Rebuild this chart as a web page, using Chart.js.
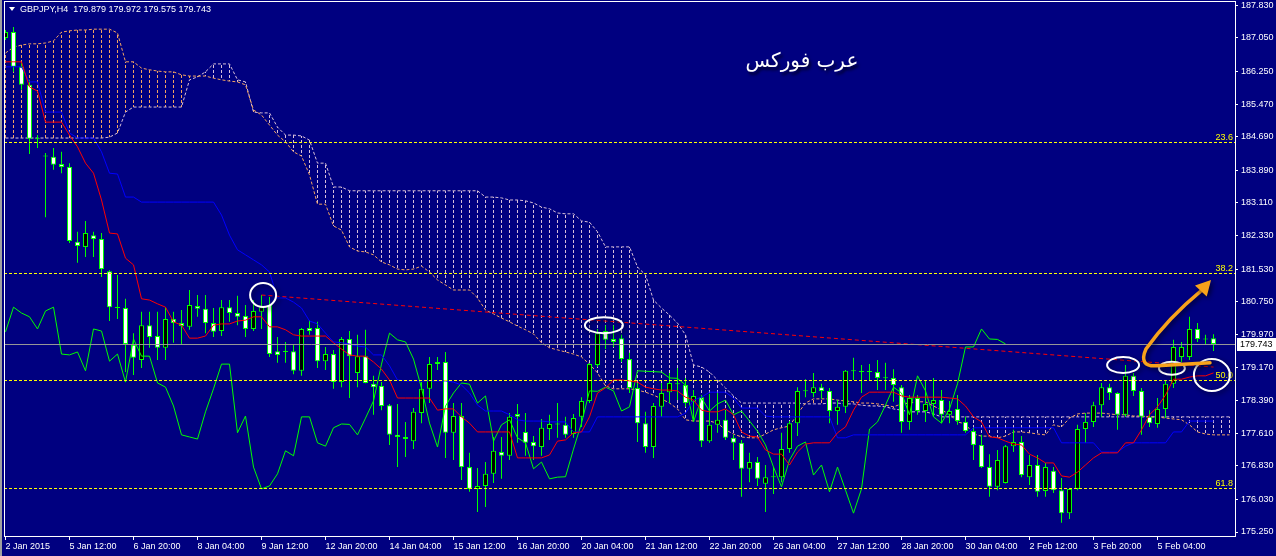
<!DOCTYPE html>
<html>
<head>
<meta charset="utf-8">
<script src="https://cdn.jsdelivr.net/npm/chart.js@4.4.0/dist/chart.umd.min.js"></script>
<style>
  html, body { margin: 0; padding: 0; background: #000080; overflow: hidden; }
  canvas { display: block; }
</style>
</head>
<body>
<canvas id="gbpjpy" width="1276" height="556"></canvas>
<script>
// GBPJPY H4 with Ichimoku, one entry per H4 bar
const tickLabels = ['2 Jan 2015', '5 Jan 12:00', '6 Jan 20:00', '8 Jan 04:00', '9 Jan 12:00', '12 Jan 20:00',
  '14 Jan 04:00', '15 Jan 12:00', '16 Jan 20:00', '20 Jan 04:00', '21 Jan 12:00', '22 Jan 20:00',
  '26 Jan 04:00', '27 Jan 12:00', '28 Jan 20:00', '30 Jan 04:00', '2 Feb 12:00', '3 Feb 20:00', '5 Feb 04:00'];
const yTickLabels = ['187.830', '187.050', '186.250', '185.470', '184.690', '183.890', '183.110', '182.330',
  '181.530', '180.750', '179.970', '179.170', '178.390', '177.610', '176.830', '176.030', '175.250'];

const opens = [
  187.05, 187.19, 186.36, 185.93, 184.64, 184.23, 184.21, 184.04, 183.97, 182.18,
  182.06, 182.34, 182.25, 181.48, 180.61, 180.60, 179.72, 179.36, 180.19, 179.93,
  179.65, 180.34, 180.24, 180.15, 180.65, 180.58, 180.24, 180.05, 180.62, 180.48,
  180.41, 180.10, 180.51, 180.67, 179.57, 179.56, 179.57, 179.10, 180.12, 180.12,
  179.33, 179.50, 178.83, 179.86, 179.05, 179.45, 178.79, 178.74, 178.28, 177.57,
  177.52, 177.42, 178.09, 178.67, 179.31, 179.31, 177.62, 178.02, 176.80, 176.28,
  176.35, 176.64, 177.16, 177.07, 178.07, 177.64, 177.40, 177.28, 177.71, 177.83,
  177.81, 177.59, 178.00, 178.38, 179.24, 180.05, 179.86, 179.88, 179.38, 178.69,
  177.85, 177.28, 178.24, 178.59, 178.79, 178.76, 178.36, 178.47, 177.42, 177.81,
  177.93, 177.50, 177.38, 176.76, 176.92, 176.40, 176.56, 176.56, 177.23, 177.85,
  178.62, 178.57, 178.71, 178.62, 178.14, 178.24, 179.10, 179.07, 179.08, 179.07,
  178.93, 178.93, 178.71, 177.88, 178.45, 178.14, 178.31, 178.40, 178.05, 178.19,
  177.88, 177.66, 177.33, 176.80, 176.33, 176.42, 177.30, 177.40, 176.56, 176.85,
  176.23, 176.71, 176.25, 175.70, 176.28, 177.71, 177.88, 178.28, 178.71, 178.57,
  178.05, 178.98, 178.62, 178.00, 177.83, 178.19, 178.79, 179.43, 179.43, 180.10,
  179.86, 179.879];
const highs = [
  187.24, 187.31, 186.45, 186.05, 184.73, 184.30, 184.42, 184.33, 184.06, 182.42,
  182.68, 182.42, 182.39, 181.50, 181.39, 180.82, 180.00, 180.51, 180.51, 180.51,
  180.62, 180.51, 180.55, 181.03, 180.91, 180.91, 180.60, 180.79, 180.79, 180.89,
  180.67, 180.79, 180.91, 180.86, 179.91, 179.79, 179.72, 180.12, 180.31, 180.27,
  179.67, 179.60, 179.91, 180.05, 179.96, 180.08, 178.98, 178.83, 178.31, 178.31,
  177.88, 178.21, 178.83, 179.43, 179.43, 179.55, 178.33, 178.33, 177.14, 176.78,
  176.92, 177.52, 177.52, 178.09, 178.31, 178.09, 177.54, 177.95, 178.05, 178.33,
  178.00, 178.07, 178.47, 179.28, 180.10, 180.19, 180.19, 179.96, 179.53, 178.81,
  178.12, 178.33, 178.81, 179.05, 179.17, 178.93, 178.64, 178.52, 178.55, 178.57,
  178.16, 177.57, 177.45, 177.14, 177.04, 176.85, 176.80, 177.62, 177.90, 178.71,
  178.90, 179.05, 178.79, 178.69, 178.40, 179.12, 179.41, 179.24, 179.26, 179.36,
  179.29, 179.14, 178.76, 178.52, 178.52, 178.88, 178.93, 178.64, 178.38, 178.52,
  178.00, 177.74, 177.57, 177.11, 177.21, 177.33, 177.69, 177.54, 177.09, 177.09,
  176.90, 176.80, 176.54, 176.30, 177.81, 178.09, 178.36, 178.81, 178.79, 178.59,
  179.24, 179.05, 178.69, 178.16, 178.45, 178.88, 179.84, 179.79, 180.39, 180.24,
  179.96, 179.972];
const lows = [
  187.00, 186.24, 185.81, 184.28, 184.42, 182.77, 183.90, 183.82, 182.15, 181.68,
  181.82, 181.82, 181.34, 180.29, 180.34, 179.07, 179.00, 179.17, 179.65, 179.36,
  179.36, 179.77, 179.72, 180.08, 180.39, 180.00, 179.91, 179.93, 180.27, 180.19,
  179.91, 180.05, 180.10, 179.43, 179.29, 179.29, 179.02, 178.98, 179.96, 179.17,
  179.12, 178.67, 178.71, 178.45, 178.71, 178.80, 178.05, 178.16, 177.33, 176.80,
  177.04, 177.23, 177.85, 178.33, 179.12, 177.02, 176.97, 176.49, 176.21, 175.73,
  175.85, 176.42, 176.52, 176.97, 177.38, 177.07, 176.97, 177.07, 177.45, 177.50,
  177.50, 177.50, 177.76, 178.33, 179.19, 179.62, 179.67, 179.31, 178.57, 177.40,
  177.14, 177.02, 178.00, 178.33, 178.40, 178.24, 177.93, 177.28, 177.38, 177.62,
  177.45, 176.97, 176.09, 176.44, 176.35, 175.73, 176.16, 176.44, 177.14, 177.54,
  178.47, 178.47, 178.43, 177.85, 177.81, 178.09, 178.88, 178.57, 178.88, 178.64,
  178.64, 178.36, 177.62, 177.69, 178.05, 177.88, 178.00, 177.85, 177.85, 177.81,
  177.62, 176.97, 176.78, 176.09, 176.25, 176.41, 177.16, 176.56, 176.37, 176.09,
  176.09, 176.18, 175.47, 175.56, 176.25, 177.38, 177.76, 178.00, 178.40, 177.69,
  178.00, 178.50, 177.57, 177.76, 177.74, 177.97, 178.69, 179.31, 179.36, 179.79,
  179.74, 179.575];
const closes = [
  187.19, 186.36, 185.93, 184.64, 184.63, 184.22, 184.02, 183.97, 182.20, 182.08,
  182.39, 182.25, 181.53, 180.62, 180.60, 179.74, 179.41, 180.19, 179.91, 179.65,
  180.34, 180.24, 180.17, 180.67, 180.58, 180.24, 180.03, 180.62, 180.48, 180.39,
  180.10, 180.53, 180.62, 179.50, 179.48, 179.55, 179.10, 180.10, 180.05, 179.33,
  179.50, 178.83, 179.86, 179.45, 179.45, 178.81, 178.71, 178.26, 177.57, 177.52,
  177.47, 178.12, 178.67, 179.26, 179.26, 177.62, 178.02, 176.80, 176.28, 176.35,
  176.64, 177.19, 177.07, 178.00, 178.00, 177.38, 177.30, 177.74, 177.83, 177.82,
  177.57, 177.97, 178.38, 179.26, 180.00, 179.84, 179.79, 179.38, 178.69, 177.85,
  177.28, 178.26, 178.57, 178.81, 178.78, 178.33, 178.50, 177.42, 177.81, 177.93,
  177.50, 177.38, 176.76, 176.92, 176.52, 176.56, 176.57, 177.23, 177.85, 178.62,
  178.61, 178.71, 178.62, 178.14, 178.24, 179.10, 179.09, 179.08, 179.07, 178.93,
  178.92, 178.76, 177.88, 178.45, 178.14, 178.31, 178.40, 178.05, 178.14, 177.90,
  177.66, 177.33, 176.80, 176.33, 176.97, 177.30, 177.40, 176.61, 176.85, 176.21,
  176.80, 176.25, 175.70, 176.28, 177.71, 177.88, 178.28, 178.71, 178.57, 178.05,
  178.98, 178.62, 178.00, 177.85, 178.19, 178.79, 179.67, 179.67, 180.10, 179.86,
  179.85, 179.743];

const tenkan = [
  186.48, 186.48, 186.48, 185.88, 185.78, 185.04, 185.04, 185.04, 184.73, 184.45,
  184.06, 183.82, 183.18, 182.39, 182.37, 181.79, 181.63, 180.82, 180.79, 180.70,
  180.62, 180.27, 180.19, 179.88, 179.88, 179.93, 180.19, 180.22, 180.22, 180.29,
  180.31, 180.39, 180.39, 180.15, 180.15, 180.08, 179.96, 179.93, 179.93, 179.93,
  179.93, 179.77, 179.62, 179.48, 179.45, 179.45, 179.31, 179.14, 178.88, 178.45,
  178.45, 178.45, 178.45, 178.45, 178.16, 178.19, 178.19, 178.00, 177.85, 177.64,
  177.64, 177.64, 177.64, 177.64, 177.02, 177.02, 177.02, 177.02, 177.09, 177.42,
  177.45, 177.62, 177.64, 178.00, 178.57, 178.69, 178.88, 178.88, 178.86, 178.83,
  178.71, 178.67, 178.64, 178.64, 178.62, 178.47, 178.40, 178.16, 178.12, 178.12,
  178.19, 178.05, 177.64, 177.54, 177.52, 177.21, 177.11, 177.11, 176.85, 177.16,
  177.35, 177.38, 177.38, 177.38, 177.62, 177.76, 178.16, 178.47, 178.59, 178.59,
  178.59, 178.59, 178.50, 178.47, 178.47, 178.47, 178.47, 178.47, 178.45, 178.43,
  178.26, 178.00, 177.88, 177.52, 177.50, 177.42, 177.35, 177.33, 177.11, 177.02,
  176.90, 176.90, 176.59, 176.56, 176.68, 176.85, 177.02, 177.14, 177.14, 177.14,
  177.38, 177.38, 177.69, 178.05, 178.24, 178.52, 178.90, 178.90, 178.95, 178.98,
  178.98, 179.05];
const kijun = [
  186.36, 186.36, 186.36, 186.00, 186.00, 185.28, 185.28, 185.28, 184.78, 184.66,
  184.66, 184.66, 184.33, 183.82, 183.80, 183.25, 183.25, 183.13, 183.13, 183.13,
  183.13, 183.13, 183.13, 183.13, 183.13, 183.13, 183.13, 182.82, 182.34, 181.99,
  181.87, 181.75, 181.63, 181.46, 180.84, 180.84, 180.74, 180.60, 180.29, 180.22,
  180.00, 179.79, 179.77, 179.74, 179.69, 179.67, 179.48, 179.48, 179.22, 178.88,
  178.86, 178.86, 178.86, 178.86, 178.86, 178.86, 178.83, 178.76, 178.57, 178.28,
  178.14, 178.14, 178.14, 178.05, 177.93, 177.90, 177.90, 177.90, 177.88, 177.88,
  177.88, 177.64, 177.64, 177.64, 178.00, 178.00, 178.00, 178.00, 178.00, 178.00,
  178.00, 178.00, 178.00, 178.00, 178.00, 178.09, 178.40, 178.47, 178.59, 178.59,
  178.59, 178.45, 178.21, 178.21, 178.21, 178.02, 178.00, 178.00, 178.00, 178.00,
  178.00, 178.00, 178.00, 178.00, 177.50, 177.50, 177.57, 177.57, 177.57, 177.57,
  177.57, 177.57, 177.57, 177.57, 177.57, 177.57, 177.57, 177.57, 177.57, 177.57,
  177.57, 177.74, 177.74, 177.74, 177.74, 177.74, 177.74, 177.74, 177.74, 177.74,
  177.74, 177.74, 177.38, 177.38, 177.38, 177.38, 177.38, 177.16, 177.16, 177.16,
  177.30, 177.38, 177.38, 177.38, 177.38, 177.38, 177.64, 177.64, 177.90, 177.90,
  177.90, 177.90];
// senkou spans are plotted 26 bars ahead, so they run two bars past the last candle
const spanA = [
  186.69, 186.83, 186.88, 186.91, 186.91, 186.93, 186.98, 187.19, 187.22, 187.24,
  187.24, 187.26, 187.26, 187.26, 187.17, 186.48, 186.48, 186.33, 186.29, 186.26,
  186.24, 186.24, 186.17, 186.14, 186.14, 186.14, 186.09, 186.05, 186.02, 186.00,
  185.93, 185.33, 185.21, 184.97, 184.73, 184.57, 184.33, 184.23, 183.78, 183.08,
  183.08, 182.56, 182.46, 182.06, 181.96, 181.94, 181.87, 181.70, 181.63, 181.53,
  181.51, 181.53, 181.60, 181.46, 181.27, 181.15, 181.03, 181.03, 181.03, 180.84,
  180.55, 180.46, 180.36, 180.27, 180.17, 180.08, 179.98, 179.77, 179.65, 179.60,
  179.55, 179.50, 179.43, 179.26, 179.05, 178.74, 178.67, 178.67, 178.67, 178.64,
  178.59, 178.52, 178.43, 178.33, 178.19, 177.93, 177.90, 177.90, 177.90, 177.85,
  177.69, 177.59, 177.52, 177.50, 177.50, 177.59, 177.69, 177.74, 177.78, 178.07,
  178.33, 178.43, 178.43, 178.43, 178.40, 178.38, 178.36, 178.33, 178.33, 178.31,
  178.28, 178.24, 178.31, 178.33, 178.36, 178.36, 178.26, 178.16, 178.07, 177.88,
  177.83, 177.59, 177.54, 177.54, 177.50, 177.54, 177.64, 177.64, 177.62, 177.59,
  177.57, 177.81, 177.76, 177.97, 178.07, 178.09, 178.09, 178.09, 178.07, 178.05,
  178.05, 178.02, 178.02, 178.00, 178.00, 177.97, 177.95, 177.93, 177.81, 177.64,
  177.59, 177.57, 177.57, 177.57];
const spanB = [
  184.66, 184.66, 184.66, 184.66, 184.66, 184.66, 184.66, 184.66, 184.66, 184.66,
  184.66, 184.66, 184.66, 184.68, 184.78, 185.28, 185.40, 185.40, 185.40, 185.40,
  185.40, 185.40, 185.40, 186.05, 186.12, 186.24, 186.43, 186.43, 186.43, 186.05,
  186.00, 185.28, 185.26, 185.26, 184.92, 184.73, 184.73, 184.71, 184.61, 184.06,
  184.06, 183.49, 183.49, 183.40, 183.40, 183.40, 183.40, 183.40, 183.40, 183.40,
  183.40, 183.40, 183.40, 183.40, 183.40, 183.40, 183.40, 183.40, 183.40, 183.40,
  183.25, 183.25, 183.23, 183.18, 183.18, 183.16, 183.11, 183.01, 182.97, 182.87,
  182.85, 182.85, 182.68, 182.65, 182.42, 182.06, 182.06, 182.06, 182.06, 181.58,
  181.39, 180.79, 180.60, 180.43, 180.24, 179.96, 179.24, 179.19, 179.07, 178.88,
  178.69, 178.50, 178.33, 178.33, 178.33, 178.33, 178.33, 178.33, 178.33, 178.33,
  178.31, 178.31, 178.31, 178.33, 178.33, 178.31, 178.31, 178.28, 178.26, 178.26,
  178.24, 178.19, 178.16, 178.12, 178.12, 178.12, 178.07, 178.00, 178.00, 178.00,
  178.00, 178.00, 178.00, 178.00, 178.00, 178.00, 178.00, 178.00, 178.00, 178.00,
  178.00, 178.00, 178.00, 178.00, 178.00, 178.00, 178.00, 178.00, 178.00, 178.00,
  178.00, 178.00, 178.00, 178.00, 178.00, 178.00, 178.00, 178.00, 178.00, 178.00,
  178.00, 178.00, 178.00, 178.00];

const fibLevels = ['23.6', '38.2', '50.0', '61.8'];
const fibPrices = [184.565, 181.436, 178.881, 176.301];
const lastQuote = [179.879, 179.972, 179.575, 179.743]; // O H L C of the last bar
const trendLine = [{ x: 32, y: 180.91 }, { x: 151, y: 179.19 }];

// hand drawn marks, placed by bar index and price
const rings = [
  { x: 32.2, y: 180.91, rx: 13, ry: 12 },
  { x: 74.8, y: 180.19, rx: 19, ry: 8 },
  { x: 139.7, y: 179.24, rx: 16, ry: 8 },
  { x: 145.8, y: 179.16, rx: 13, ry: 6.5 },
  { x: 150.8, y: 179.00, rx: 18, ry: 16 }
];
const arrowPts = [[150.56, 179.29], [143.94, 179.22], [141.56, 179.19], [142.56, 179.62],
  [145.31, 180.36], [149.44, 181.01], [150.69, 181.27]];
const brandAt = [99.56, 186.48];

const NAVY = '#000080';
const LIME = '#00ff00';
const SANDY = '#f4a460';
const THISTLE = '#d8bfd8';
const FONT = '"Liberation Sans"';

const canvas = document.getElementById('gbpjpy');
const ctx = canvas.getContext('2d');

function dashTile(color) {
  const tile = document.createElement('canvas');
  tile.width = 1;
  tile.height = 5;
  const t = tile.getContext('2d');
  t.fillStyle = color;
  t.fillRect(0, 0, 1, 3);
  return ctx.createPattern(tile, 'repeat');
}
const sandHatch = dashTile(SANDY);
const thistleHatch = dashTile(THISTLE);

const slots = spanA.map((_, i) => i);
const chikou = closes.slice(26); // lagging span sits 26 bars back

const mt4Overlay = {
  id: 'mt4Overlay',
  beforeDraw(chart) {
    const c = chart.ctx;
    c.save();
    c.fillStyle = NAVY;
    c.fillRect(0, 0, chart.width, chart.height);
    c.fillStyle = '#a0a0a0';
    c.fillRect(0, 0, 2, chart.height);
    c.restore();
  },
  afterDatasetsDraw(chart) {
    const c = chart.ctx;
    const a = chart.chartArea;
    const x = chart.scales.x, y = chart.scales.y;
    c.save();

    // fibonacci levels
    c.lineWidth = 1;
    c.setLineDash([3, 2]);
    c.strokeStyle = '#ffff00';
    c.fillStyle = '#ffff00';
    c.font = '9px ' + FONT;
    c.textAlign = 'right';
    c.textBaseline = 'bottom';
    fibPrices.forEach((p, k) => {
      const py = Math.round(y.getPixelForValue(p)) + 0.5;
      c.beginPath();
      c.moveTo(a.left, py);
      c.lineTo(a.right, py);
      c.stroke();
      c.fillText(fibLevels[k], a.right - 2, py);
    });

    // bid line
    c.setLineDash([]);
    const by = Math.round(y.getPixelForValue(lastQuote[3])) + 0.5;
    c.strokeStyle = '#969696';
    c.beginPath();
    c.moveTo(a.left, by);
    c.lineTo(a.right, by);
    c.stroke();

    // rings
    c.shadowColor = 'rgba(0,0,20,0.7)';
    c.shadowBlur = 5;
    c.shadowOffsetX = 2;
    c.shadowOffsetY = 2;
    c.strokeStyle = '#ffffff';
    c.lineWidth = 2;
    rings.forEach(r => {
      c.beginPath();
      c.ellipse(x.getPixelForValue(r.x), y.getPixelForValue(r.y), r.rx, r.ry, 0, 0, Math.PI * 2);
      c.stroke();
    });

    // arrow
    const P = arrowPts.map(p => [x.getPixelForValue(p[0]), y.getPixelForValue(p[1])]);
    c.strokeStyle = '#f7a21b';
    c.fillStyle = '#f7a21b';
    c.lineWidth = 3.5;
    c.lineCap = 'round';
    c.lineJoin = 'round';
    c.beginPath();
    c.moveTo(P[0][0], P[0][1]);
    c.lineTo(P[1][0], P[1][1]);
    c.quadraticCurveTo(P[2][0], P[2][1], P[3][0], P[3][1]);
    c.quadraticCurveTo(P[4][0], P[4][1], P[5][0], P[5][1]);
    c.stroke();
    const tip = P[6], base = P[5];
    const dx = tip[0] - base[0], dy = tip[1] - base[1];
    const len = Math.hypot(dx, dy);
    const ux = dx / len, uy = dy / len;
    const bx = tip[0] - ux * 15, by2 = tip[1] - uy * 15;
    c.beginPath();
    c.moveTo(tip[0], tip[1]);
    c.lineTo(bx - uy * 8, by2 + ux * 8);
    c.lineTo(bx + uy * 8, by2 - ux * 8);
    c.closePath();
    c.fill();

    // brand text
    c.shadowColor = 'rgba(0,0,30,0.9)';
    c.shadowBlur = 3;
    c.shadowOffsetX = 2;
    c.shadowOffsetY = 3;
    c.fillStyle = '#ffffff';
    c.font = '20px "DejaVu Sans"';
    c.textAlign = 'center';
    c.textBaseline = 'middle';
    c.fillText('عرب فوركس', x.getPixelForValue(brandAt[0]), y.getPixelForValue(brandAt[1]));
    c.restore();
  },
  afterDraw(chart) {
    const c = chart.ctx;
    const a = chart.chartArea;
    const y = chart.scales.y;
    c.save();
    c.fillStyle = '#ffffff';
    c.fillRect(a.left, a.top, 1, a.bottom - a.top);
    c.fillRect(a.left, a.top, a.right - a.left + 1, 1);

    // price tag on the axis
    const py = Math.round(y.getPixelForValue(lastQuote[3]));
    c.fillRect(a.right + 2, py - 6, chart.width - a.right - 2, 13);
    c.fillStyle = '#000000';
    c.font = '9px ' + FONT;
    c.textBaseline = 'middle';
    c.textAlign = 'left';
    c.fillText(lastQuote[3].toFixed(3), a.right + 5, py + 0.5);

    // header
    c.fillStyle = '#ffffff';
    c.beginPath();
    c.moveTo(9, 7);
    c.lineTo(15, 7);
    c.lineTo(12, 11);
    c.closePath();
    c.fill();
    c.fillText('GBPJPY,H4  ' + lastQuote.map(v => v.toFixed(3)).join(' '), 20, 9.5);
    c.restore();
  }
};

Chart.defaults.font.family = FONT;
Chart.defaults.font.size = 9;

new Chart(ctx, {
  type: 'bar',
  data: {
    labels: slots,
    datasets: [
      {
        type: 'line', label: 'Trend', data: trendLine, borderColor: '#ff0000', borderWidth: 1,
        borderDash: [4, 3], pointRadius: 0, order: 0
      },
      {
        type: 'line', label: 'Tenkan-sen', data: tenkan, borderColor: '#ff0000', borderWidth: 1,
        pointRadius: 0, order: 0
      },
      {
        type: 'line', label: 'Kijun-sen', data: kijun, borderColor: '#0000ff', borderWidth: 1,
        pointRadius: 0, order: 0
      },
      {
        type: 'line', label: 'Chikou Span', data: chikou, borderColor: LIME, borderWidth: 1,
        pointRadius: 0, order: 0
      },
      {
        label: 'Body',
        data: opens.map((o, i) => [o, closes[i]]),
        backgroundColor: opens.map((o, i) => (closes[i] < o ? '#ffffff' : '#000000')),
        borderColor: LIME, borderWidth: 1, borderSkipped: false,
        barThickness: 5, minBarLength: 1, grouped: false, inflateAmount: 0, order: 1
      },
      {
        label: 'Wick',
        data: lows.map((l, i) => [l, highs[i]]),
        backgroundColor: LIME, barThickness: 1, grouped: false, inflateAmount: 0, order: 2
      },
      {
        type: 'line', label: 'Senkou Span A', data: spanA, borderColor: SANDY, borderWidth: 1,
        borderDash: [3, 2], pointRadius: 0, order: 3
      },
      {
        type: 'line', label: 'Senkou Span B', data: spanB, borderColor: THISTLE, borderWidth: 1,
        borderDash: [3, 2], pointRadius: 0, order: 3
      },
      {
        label: 'Kumo',
        data: spanA.map((v, i) => [v, spanB[i]]),
        backgroundColor: spanA.map((v, i) => (v >= spanB[i] ? sandHatch : thistleHatch)),
        barThickness: 1, grouped: false, inflateAmount: 0, order: 4
      }
    ]
  },
  options: {
    responsive: false,
    animation: false,
    layout: { padding: { left: 4, top: 1, right: 0, bottom: 0 } },
    plugins: { legend: { display: false }, tooltip: { enabled: false } },
    scales: {
      x: {
        type: 'linear',
        min: -0.1875,
        max: 153.6875,
        offset: false,
        afterBuildTicks: s => { s.ticks = tickLabels.map((_, k) => ({ value: k * 8 })); },
        afterFit: s => { s.height = 20; s.paddingLeft = 0; s.paddingRight = 0; },
        ticks: {
          color: '#ffffff', align: 'start', maxRotation: 0, autoSkip: false, padding: 1,
          callback: v => tickLabels[Math.round(v / 8)]
        },
        grid: { drawOnChartArea: false, offset: false, color: '#ffffff', tickLength: 4 },
        border: { color: '#ffffff' }
      },
      y: {
        position: 'right',
        min: 175.1545,
        max: 187.9327,
        afterBuildTicks: s => { s.ticks = yTickLabels.map(t => ({ value: parseFloat(t) })); },
        afterFit: s => { s.width = 41; s.paddingTop = 0; s.paddingBottom = 0; },
        ticks: { color: '#ffffff', padding: 3, callback: (v, k) => yTickLabels[k] },
        grid: { drawOnChartArea: false, color: '#ffffff', tickLength: 3 },
        border: { color: '#ffffff' }
      }
    }
  },
  plugins: [mt4Overlay]
});
</script>
</body>
</html>
